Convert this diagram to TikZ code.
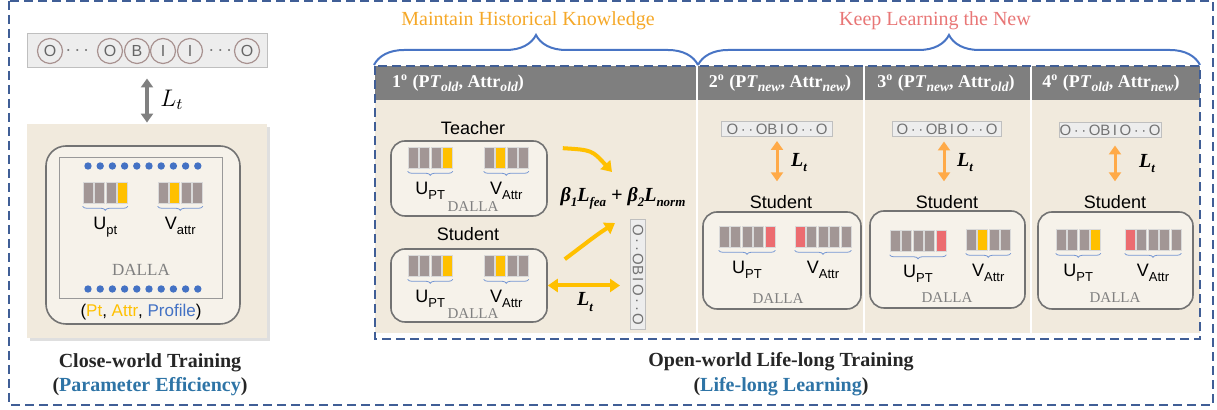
\documentclass[tikz,border=0pt]{standalone}
\usepackage{fontspec}
\usepackage{amsmath}
\setmainfont{Liberation Serif}
\setsansfont{Liberation Sans}
\usetikzlibrary{arrows.meta,decorations.pathreplacing,shadows,positioning}

\definecolor{frameblue}{RGB}{64,94,150}
\definecolor{braceblue}{RGB}{72,116,196}
\definecolor{panelbeige}{RGB}{241,234,221}
\definecolor{boxcream}{RGB}{246,242,234}
\definecolor{hdrgray}{RGB}{127,127,127}
\definecolor{wgray}{RGB}{162,150,149}
\definecolor{wyellow}{RGB}{255,192,0}
\definecolor{wred}{RGB}{236,108,112}
\definecolor{arrorange}{RGB}{255,170,72}
\definecolor{oldtext}{RGB}{245,168,40}
\definecolor{newtext}{RGB}{232,118,118}
\definecolor{dotblue}{RGB}{68,114,196}
\definecolor{effblue}{RGB}{46,116,166}
\definecolor{ringbrown}{RGB}{168,146,144}

\tikzset{
  frame/.style={draw=frameblue, line width=1pt, dash pattern=on 4.5pt off 2.5pt},
  model/.style={draw=black!55, line width=0.8pt, rounded corners=7pt, fill=boxcream},
  wbar/.style={minimum width=5pt, minimum height=10.5pt, inner sep=0pt, draw=white!85!black, line width=0.3pt},
  wbrace/.style={draw=braceblue!75, line width=0.4pt, decorate, decoration={brace, mirror, amplitude=2pt}},
  bigbrace/.style={draw=braceblue, line width=1pt, decorate, decoration={brace, amplitude=15pt}},
  hdr/.style={text=white, font=\bfseries\fontsize{9}{10}\selectfont},
  tokbox/.style={draw=black!25, fill=black!7, line width=0.5pt, inner sep=0pt, text=black!55,
    font=\sffamily\fontsize{7.5}{8}\selectfont},
  tokc/.style={circle, draw=ringbrown, line width=0.6pt, minimum size=12.5pt, inner sep=0pt, text=black!60,
    font=\sffamily\fontsize{8}{8}\selectfont},
  role/.style={font=\sffamily\fontsize{9}{10}\selectfont},
  dalla/.style={text=black!50, font=\fontsize{7.5}{8}\selectfont},
  lossfont/.style={font=\bfseries\itshape\fontsize{10}{11}\selectfont},
  garrow/.style={draw=black!50, line width=2pt, {Triangle[width=6pt,length=4.5pt]}-{Triangle[width=6pt,length=4.5pt]}},
  oarrow/.style={draw=arrorange, line width=1.5pt, {Triangle[width=6pt,length=4.5pt]}-{Triangle[width=6pt,length=4.5pt]}},
  yarrow/.style={draw=wyellow, line width=2pt, -{Triangle[width=6.5pt,length=5pt]}},
}

% subscript as set in the slide labels
\newcommand{\lowsub}[1]{\raisebox{-0.55ex}{\fontsize{6.5}{7}\selectfont #1}}
\newcommand{\hdrsub}[1]{\raisebox{-0.45ex}{\fontsize{6.8}{7}\selectfont\itshape #1}}
% header of one training stage
\newcommand{\stage}[3]{#1\textsuperscript{o} (P\textit{T}\hdrsub{#2}, Attr\hdrsub{#3})}
% weight bars: name, x of first bar, y, colours, count, label
\newcommand{\wbars}[6]{%
  \foreach \clr [count=\i] in {#4}
    \node[wbar, fill=\clr] (#1-\i) at ({#2+(\i-1)*11.5}, #3) {};
  \draw[wbrace] ([yshift=-1.5pt]#1-1.south west) -- ([yshift=-1.5pt]#1-#5.south east)
    node[midway, below=4pt, role, inner sep=1pt] (#1-lbl) {#6};
}

\begin{document}
\begin{tikzpicture}[x=0.5pt, y=-0.5pt]
\useasboundingbox (0,0) rectangle (1217,410);

% outer frame
\draw[frame] (9,1) rectangle (1213,405);

%%% close-world training
% BIO tag chain
\node[tokbox, minimum width=120pt, minimum height=17pt] (chain) at (147,51) {};
\foreach \lab/\x [count=\i] in {O/50, O/110, B/137, I/163, I/190, O/247}
  \node[tokc] (c\i) at (\x,51) {\lab};
\node[text=black!55] (gap1) at (79,51) {$\cdots$};
\node[text=black!55] (gap2) at (222,51) {$\cdots$};

% model panel
\node[fill=panelbeige, drop shadow={opacity=0.25, shadow xshift=1.5pt, shadow yshift=-1.5pt},
  minimum width=120pt, minimum height=107pt, inner sep=0pt] (cw) at (147,231) {};
\draw[garrow, shorten <=5pt, shorten >=0.5pt] (chain) -- (cw);
\node[font=\fontsize{12}{12}\selectfont] (ltcw) at (172,100) {$L_t$};

\node[model, rounded corners=10pt, minimum width=97pt, minimum height=89pt] (cwm) at (143,235) {};
\node[draw=black!40, line width=0.5pt, minimum width=81.5pt, minimum height=70.5pt] (cwin) at (140.5,228.5) {};
\foreach \i in {0,...,9} {
  \fill[dotblue] ({88+\i*12.2},166) circle (3.7);
  \fill[dotblue] ({88+\i*12.2},289) circle (3.7);
}
\wbars{up}{88}{192.5}{wgray,wgray,wgray,wyellow}{4}{U\lowsub{pt}}
\wbars{va}{163}{192.5}{wgray,wyellow,wgray,wgray}{4}{V\lowsub{attr}}
\node[dalla, font=\fontsize{8.5}{9}\selectfont] (cwname) at (141,270) {DALLA};
\node[role, font=\sffamily\fontsize{8.5}{9}\selectfont] (cwdata) at (141,312)
  {(\textcolor{wyellow}{Pt}, \textcolor{wyellow}{Attr}, \textcolor{dotblue}{Profile})};

% caption
\node[font=\bfseries\fontsize{10}{11}\selectfont, text=black!85] (cwcap) at (150,363) {Close-world Training};
\node[font=\bfseries\fontsize{10}{11}\selectfont, text=black!85] (cwsub) at (150,387)
  {(\textcolor{effblue}{Parameter Efficiency})};

%%% open-world life-long training
% stage columns
\foreach \l/\r in {375/697, 697/864, 864/1031, 1031/1200} {
  \fill[panelbeige] (\l,100) rectangle (\r,333);
  \fill[hdrgray] (\l,66) rectangle (\r,100);
}
\foreach \x in {697,864,1031}
  \draw[white, line width=0.8pt] (\x,66) -- (\x,333);
\draw[frame] (375,66) rectangle (1200,339);

\node[hdr, anchor=west] (h1) at (385,83) {\stage{1}{old}{old}};
\node[hdr] (h2) at (780,83) {\stage{2}{new}{new}};
\node[hdr] (h3) at (946,83) {\stage{3}{new}{old}};
\node[hdr] (h4) at (1111,83) {\stage{4}{old}{new}};

% goals over the stages
\draw[bigbrace] (374,65) -- (698,65)
  node[midway, above=14pt, xshift=-4pt, text=oldtext, font=\fontsize{10}{11}\selectfont] (keepold) {Maintain Historical Knowledge};
\draw[bigbrace] (698,65) -- (1200,65)
  node[midway, above=14pt, xshift=-7pt, text=newtext, font=\fontsize{10}{11}\selectfont] (learnnew) {Keep Learning the New};

% stage 1: teacher and student
\node[role] (teach) at (473,128) {Teacher};
\node[model, minimum width=78pt, minimum height=37.5pt] (tbox) at (469,178.5) {};
\wbars{tu}{413}{157.5}{wgray,wgray,wgray,wyellow}{4}{U\lowsub{PT}}
\wbars{tv}{489}{157.5}{wgray,wyellow,wgray,wgray}{4}{V\lowsub{Attr}}
\node[dalla] (tname) at (473,207) {DALLA};

\node[role] (stu1) at (468,234) {Student};
\node[model, minimum width=78pt, minimum height=36.5pt] (sbox) at (469,285.5) {};
\wbars{su}{413}{265.5}{wgray,wgray,wgray,wyellow}{4}{U\lowsub{PT}}
\wbars{sv}{489}{265.5}{wgray,wyellow,wgray,wgray}{4}{V\lowsub{Attr}}
\node[dalla] (sname) at (473,314) {DALLA};

\node[lossfont] (loss) at (623,198)
  {β\lowsub{1}L\lowsub{fea} + β\lowsub{2}L\lowsub{norm}};
\node[tokbox, rotate=-90, minimum width=55pt, minimum height=7.5pt] (vtok) at (638,275) {O\,·\,·\,OB\,I\,O\,·\,·\,O};

\draw[yarrow] ([shift={(15,8)}]tbox.north east) .. controls (592,150) .. ([shift={(-11,-26)}]loss.center);
\draw[yarrow] ([shift={(17,11)}]sbox.north east) .. controls (598,234) .. ([shift={(-8,25)}]loss.center);
\draw[yarrow, {Triangle[width=6.5pt,length=5pt]}-{Triangle[width=6.5pt,length=5pt]}, shorten >=9pt]
  (sbox.east) -- (sbox.east -| vtok.center);
\node[lossfont] (lt1) at (585,302) {L\lowsub{t}};

% stage 2
\node[tokbox, minimum width=55.5pt, minimum height=7.5pt] (tok2) at (777,129) {O\,·\,·\,OB\,I\,O\,·\,·\,O};
\node[role] (stu2) at (781,202) {Student};
\draw[oarrow, shorten <=2pt, shorten >=3.5pt] (tok2.south) -- (tok2.south |- stu2.north)
  node[midway, right=3pt, lossfont] (lt2) {L\lowsub{t}};
\node[model, minimum width=79pt, minimum height=48.5pt] (m2) at (782,260.5) {};
\wbars{u2}{724}{236.5}{wgray,wgray,wgray,wgray,wred}{5}{U\lowsub{PT}}
\wbars{v2}{800}{236.5}{wred,wgray,wgray,wgray,wgray}{5}{V\lowsub{Attr}}
\node[dalla] (n2) at (778,299) {DALLA};

% stage 3
\node[tokbox, minimum width=54.5pt, minimum height=7.5pt] (tok3) at (947,129.5) {O\,·\,·\,OB\,I\,O\,·\,·\,O};
\node[role] (stu3) at (947,202) {Student};
\draw[oarrow, shorten <=2pt, shorten >=3.5pt] ([xshift=-1.5pt]tok3.south) -- ([xshift=-1.5pt]tok3.south |- stu3.north)
  node[midway, right=2.5pt, lossfont] (lt3) {L\lowsub{t}};
\node[model, minimum width=77.5pt, minimum height=48.5pt] (m3) at (947.5,259.5) {};
\wbars{u3}{895}{241}{wgray,wgray,wgray,wgray,wred}{5}{U\lowsub{PT}}
\wbars{v3}{971}{239.5}{wgray,wyellow,wgray,wgray}{4}{V\lowsub{Attr}}
\node[dalla] (n3) at (947,298) {DALLA};

% stage 4
\node[tokbox, minimum width=51pt, minimum height=7.5pt] (tok4) at (1110,130.5) {O\,·\,·\,OB\,I\,O\,·\,·\,O};
\node[role] (stu4) at (1115,202) {Student};
\draw[oarrow, shorten <=3.5pt, shorten >=3.5pt] (stu4.north |- tok4.south) -- (stu4.north)
  node[midway, right=8pt, lossfont] (lt4) {L\lowsub{t}};
\node[model, minimum width=77.5pt, minimum height=48.5pt] (m4) at (1115.5,260.5) {};
\wbars{u4}{1061}{239.5}{wgray,wgray,wgray,wyellow}{4}{U\lowsub{PT}}
\wbars{v4}{1130}{239.5}{wred,wgray,wgray,wgray,wgray}{5}{V\lowsub{Attr}}
\node[dalla] (n4) at (1115,298) {DALLA};

% caption
\node[font=\bfseries\fontsize{10}{11}\selectfont, text=black!85] (owcap) at (781,362) {Open-world Life-long Training};
\node[font=\bfseries\fontsize{10}{11}\selectfont, text=black!85] (owsub) at (781,387)
  {(\textcolor{effblue}{Life-long Learning})};
\end{tikzpicture}
\end{document}
